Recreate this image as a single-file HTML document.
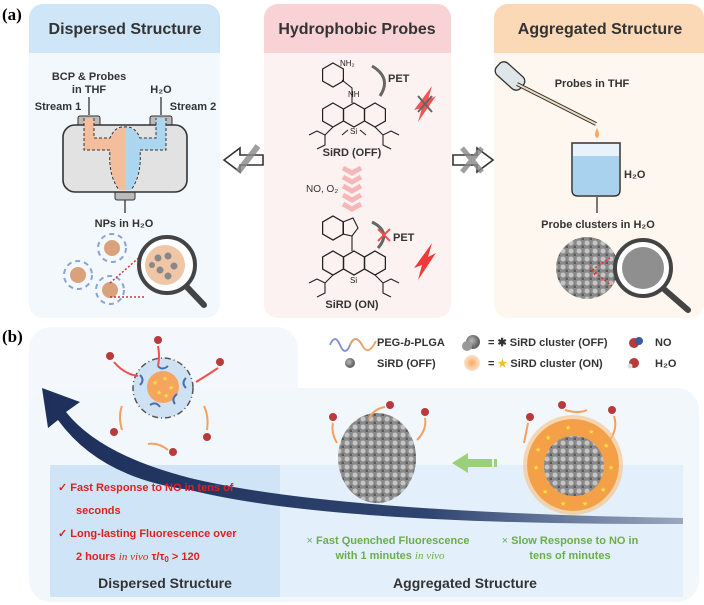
<!DOCTYPE html>
<html><head><meta charset="utf-8"><style>
html,body{margin:0;padding:0;background:#fff;}
svg{display:block;font-family:"Liberation Sans",sans-serif;}
.b{font-weight:bold;}
</style></head><body>
<svg width="704" height="605" viewBox="0 0 704 605" xmlns="http://www.w3.org/2000/svg">
<defs>
<polygon id="hx" points="0,-12 10.4,-6 10.4,6 0,12 -10.4,6 -10.4,-6" fill="none" stroke="#222" stroke-width="1.2"/>
<radialGradient id="gg" cx="40%" cy="40%"><stop offset="0" stop-color="#bbb"/><stop offset="1" stop-color="#666"/></radialGradient>
<radialGradient id="og"><stop offset="0" stop-color="#f7a860"/><stop offset="1" stop-color="#f5b57a" stop-opacity="0.4"/></radialGradient>
<pattern id="cl" width="8" height="8" patternUnits="userSpaceOnUse"><rect width="8" height="8" fill="#8a8a8a"/><circle cx="3" cy="3" r="2.5" fill="#c4c4c4"/><circle cx="7" cy="7" r="1.5" fill="#5a5a5a"/></pattern>
<linearGradient id="arw" x1="0" x2="1"><stop offset="0" stop-color="#1d2f5a"/><stop offset="0.6" stop-color="#2f4470"/><stop offset="1" stop-color="#9aa8c0"/></linearGradient>
</defs>
<text x="2" y="20" font-family="Liberation Serif" font-size="17" class="b">(a)</text>
<!-- left panel -->
<rect x="29" y="4" width="191" height="314" rx="14" fill="#f3f8fd"/>
<path d="M29,53 V18 a14,14 0 0 1 14,-14 H206 a14,14 0 0 1 14,14 V53 Z" fill="#cfe6f8"/>
<text x="125" y="34" text-anchor="middle" font-size="16" class="b" fill="#333">Dispersed Structure</text>
<!-- middle -->
<rect x="264" y="4" width="187" height="314" rx="14" fill="#fdf2f2"/>
<path d="M264,53 V18 a14,14 0 0 1 14,-14 H437 a14,14 0 0 1 14,14 V53 Z" fill="#f9d2d5"/>
<text x="357" y="34" text-anchor="middle" font-size="16" class="b" fill="#333">Hydrophobic Probes</text>
<!-- right -->
<rect x="494" y="4" width="210" height="314" rx="14" fill="#fdf7ef"/>
<path d="M494,53 V18 a14,14 0 0 1 14,-14 H690 a14,14 0 0 1 14,14 V53 Z" fill="#fbd9b7"/>
<text x="600" y="34" text-anchor="middle" font-size="16" class="b" fill="#333">Aggregated Structure</text>

<!-- left content -->
<g font-size="11" class="b" fill="#333" text-anchor="middle">
<text x="89" y="80">BCP &amp; Probes</text><text x="89" y="93">in THF</text>
<text x="161" y="93">H₂O</text>
<text x="58" y="110">Stream 1</text><text x="193" y="110">Stream 2</text>
<text x="124" y="227">NPs in H₂O</text>
</g>
<path d="M89,97 V115 M161,97 V115 M125,200 V213" stroke="#333" stroke-width="1.3"/>
<rect x="78" y="116" width="22" height="12" rx="2" fill="#bbb" stroke="#333"/>
<rect x="150" y="116" width="22" height="12" rx="2" fill="#bbb" stroke="#333"/>
<rect x="115" y="190" width="20" height="10" rx="2" fill="#bbb" stroke="#333"/>
<rect x="63" y="125" width="124" height="67" rx="12" fill="#e2e2e2" stroke="#333" stroke-width="1.6"/>
<path d="M84,118 H94 V138 H110 Q115,128 125,127 V190 H119 Q110,175 110,155 V150 H84 Z" fill="#f4bd9c"/>
<path d="M166,118 H156 V138 H140 Q135,128 125,127 V190 H131 Q140,175 140,155 V150 H166 Z" fill="#acd5f0"/>
<path d="M84,118 V150 H110 Q108,175 119,190 M94,118 V138 H110 Q115,126 125,127 Q135,126 140,138 H156 V118 M166,118 V150 H140 Q142,175 131,190" fill="none" stroke="#333" stroke-dasharray="3,2"/>
<g fill="none" stroke="#8aa4d6" stroke-width="2">
<circle cx="78" cy="275" r="14" stroke-dasharray="5,4"/><circle cx="112" cy="248" r="14" stroke-dasharray="5,4"/><circle cx="110" cy="290" r="14" stroke-dasharray="5,4"/>
</g>
<circle cx="78" cy="275" r="8" fill="#d9a27c"/><circle cx="112" cy="248" r="8" fill="#d9a27c"/><circle cx="110" cy="290" r="8" fill="#d9a27c"/>
<path d="M110,283 L142,255 M110,297 L145,297" stroke="#e03030" stroke-width="1.5" stroke-dasharray="2,2"/>
<line x1="185" y1="285" x2="204" y2="305" stroke="#444" stroke-width="6" stroke-linecap="round"/>
<circle cx="167" cy="265" r="28" fill="#fff" stroke="#444" stroke-width="4"/>
<circle cx="165" cy="265" r="20" fill="#efc6a6"/>
<g fill="#888"><circle cx="158" cy="258" r="3.5"/><circle cx="168" cy="256" r="3.5"/><circle cx="174" cy="266" r="3.5"/><circle cx="160" cy="270" r="3.5"/><circle cx="168" cy="276" r="3.5"/><circle cx="152" cy="265" r="3"/></g>

<!-- arrows between panels -->
<path d="M224,160 L240,148 V155 H263 V165 H240 V172 Z" fill="#fff" stroke="#333" stroke-width="1.6"/>
<path d="M238,172 L258,146" stroke="#888" stroke-width="6" opacity="0.8"/>
<path d="M493,160 L477,148 V155 H453 V165 H477 V172 Z" fill="#fff" stroke="#333" stroke-width="1.6"/>
<path d="M462,148 L482,172 M482,148 L462,172" stroke="#888" stroke-width="5" opacity="0.8"/>

<!-- middle molecules -->
<g>
<use href="#hx" x="333" y="75"/>
<use href="#hx" x="333" y="115"/><use href="#hx" x="354" y="115"/><use href="#hx" x="375" y="115"/>
<path d="M342,80 L352,88 V103 M333,127 l-8,8 -8,-4 -8,4 M325,135 v10 l-8,4 M375,127 l8,8 8,-4 8,4 M383,135 v10 l8,4 M348,130 l-6,5 M360,130 l6,5" fill="none" stroke="#222" stroke-width="1.1"/>
<text x="340" y="66" font-size="8" fill="#222">NH₂</text><text x="348" y="97" font-size="8" fill="#222">NH</text>
<text x="350" y="134" font-size="8" fill="#222">Si</text>
<path d="M372,66 Q392,78 380,96" fill="none" stroke="#666" stroke-width="3"/>
<text x="388" y="82" font-size="11" class="b" fill="#333">PET</text>
<path d="M414,110 L432,86 L428,100 L436,96 L418,122 L422,108 Z" fill="#f03a3a" opacity="0.85"/>
<path d="M418,96 L432,112 M432,96 L418,112" stroke="#666" stroke-width="2"/>
<text x="352" y="156" text-anchor="middle" font-size="11" class="b" fill="#333">SiRD (OFF)</text>
<g fill="none" stroke="#f4b8b8" stroke-width="5">
<path d="M343,168 l9,5 9,-5 M343,177 l9,5 9,-5 M343,186 l9,5 9,-5 M343,195 l9,5 9,-5 M343,204 l9,5 9,-5"/>
</g>
<text x="306" y="192" font-size="10" fill="#333">NO, O₂</text>
<g fill="none" stroke="#f7a0a0" stroke-width="4" opacity="0.45"><use href="#hx" x="333" y="263"/><use href="#hx" x="354" y="263"/><use href="#hx" x="375" y="263"/><use href="#hx" x="333" y="228"/></g>
<use href="#hx" x="333" y="228"/>
<use href="#hx" x="333" y="263"/><use href="#hx" x="354" y="263"/><use href="#hx" x="375" y="263"/>
<polygon points="343,222 353,218 358,228 352,236 343,234" fill="none" stroke="#222" stroke-width="1.1"/>
<path d="M352,236 V251 M333,275 l-8,8 -8,-4 -8,4 M325,283 v10 l-8,4 M375,275 l8,8 8,-4 8,4 M383,283 v10 l8,4" fill="none" stroke="#222" stroke-width="1.1"/>
<text x="350" y="283" font-size="8" fill="#222">Si</text>
<path d="M372,222 Q392,232 378,248" fill="none" stroke="#666" stroke-width="3"/>
<path d="M378,229 L390,241 M390,229 L378,241" stroke="#f05050" stroke-width="2"/>
<text x="393" y="241" font-size="11" class="b" fill="#333">PET</text>
<path d="M414,268 L432,243 L428,257 L436,253 L418,280 L422,265 Z" fill="#f03a3a"/>
<text x="352" y="308" text-anchor="middle" font-size="11" class="b" fill="#333">SiRD (ON)</text>

<!-- right content -->
<rect x="502" y="60" width="16" height="32" rx="6" transform="rotate(-48 510 76)" fill="#dfe6ea" stroke="#333" stroke-width="1.3"/>
<line x1="517" y1="84" x2="596" y2="124" stroke="#333" stroke-width="4"/>
<line x1="517" y1="84" x2="596" y2="124" stroke="#f3dcc0" stroke-width="2"/>
<path d="M597,128 q-4,8 0,10 q4,-2 0,-10z" fill="#f5a862"/>
<text x="592" y="87" font-size="11" class="b" fill="#333" text-anchor="middle">Probes in THF</text>
<path d="M572,143 H620 V190 Q620,196 614,196 H578 Q572,196 572,190 Z" fill="#e8f2fa" stroke="#333" stroke-width="1.5"/>
<path d="M573,156 H619 V190 Q619,195 614,195 H578 Q573,195 573,190 Z" fill="#a9d2ee"/>
<text x="624" y="178" font-size="11" class="b" fill="#333">H₂O</text>
<path d="M597,197 V213" stroke="#333" stroke-width="1.3"/>
<text x="598" y="228" font-size="11" class="b" fill="#333" text-anchor="middle">Probe clusters in H₂O</text>
<circle cx="587" cy="268" r="31" fill="url(#cl)"/>
<path d="M592,270 l18,-12 M592,270 l20,16 M595,275 l-5,-8" stroke="#e03030" stroke-width="1.5" stroke-dasharray="2,2" fill="none"/>
<line x1="665" y1="290" x2="688" y2="310" stroke="#444" stroke-width="6" stroke-linecap="round"/>
<circle cx="643" cy="268" r="28" fill="#fff" stroke="#444" stroke-width="4"/>
<circle cx="643" cy="268" r="21" fill="#8f8f8f"/>

<!-- (b) -->
<text x="2" y="342" font-family="Liberation Serif" font-size="17" class="b">(b)</text>
<rect x="29" y="327" width="269" height="275" rx="22" fill="#f4f8fd"/>
<rect x="29" y="388" width="670" height="214" rx="22" fill="#f2f7fc"/>
<rect x="50" y="465" width="633" height="132" fill="#e3f0fb"/>
<rect x="50" y="465" width="230" height="132" fill="#cfe4f6"/>
<!-- legend -->
<path d="M330,345 q5,-12 10,0 t10,0 q5,-12 12,0" fill="none" stroke="#7d8fd0" stroke-width="1.8"/>
<path d="M350,345 q6,-12 12,0 t14,-4" fill="none" stroke="#eea060" stroke-width="1.8"/>
<text x="377" y="346" font-size="11" class="b" fill="#333">PEG-<tspan font-style="italic">b</tspan>-PLGA</text>
<circle cx="350" cy="363" r="5" fill="url(#gg)"/>
<text x="377" y="367" font-size="11" class="b" fill="#333">SiRD (OFF)</text>
<circle cx="473" cy="342" r="7" fill="url(#gg)"/><circle cx="467" cy="346" r="5" fill="#999"/>
<circle cx="472" cy="363" r="8" fill="url(#og)"/>
<text x="488" y="346" font-size="11" class="b" fill="#333">= ✱ SiRD cluster (OFF)</text>
<text x="488" y="367" font-size="11" class="b" fill="#333">= <tspan fill="#f0c020">★</tspan> SiRD cluster (ON)</text>
<circle cx="634" cy="343" r="5" fill="#b83a3a"/><circle cx="639" cy="341" r="4" fill="#3b5aa0"/>
<text x="655" y="346" font-size="11" class="b" fill="#333">NO</text>
<circle cx="634" cy="363" r="5" fill="#b83a3a"/><circle cx="630" cy="366" r="2.5" fill="#ddd"/>
<text x="655" y="367" font-size="11" class="b" fill="#333">H₂O</text>
<!-- dispersed NP -->
<circle cx="163" cy="388" r="30" fill="#cfe2f3" stroke="#555" stroke-width="1.5" stroke-dasharray="6,3,1,3"/>
<circle cx="163" cy="387" r="16" fill="#f6a55e"/>
<g fill="#f5e040" font-size="7"><text x="152" y="385">★</text><text x="162" y="381">★</text><text x="168" y="390">★</text><text x="156" y="395">★</text><text x="163" y="398">★</text></g>
<g fill="none" stroke="#4a6fb0" stroke-width="2"><path d="M140,375 q5,5 0,10 M186,378 q-5,5 0,10 M150,405 q6,-4 10,2 M175,404 q-4,-5 2,-10 M158,366 q4,5 10,0"/></g>
<g fill="#b83a3a"><circle cx="158" cy="340" r="4"/><circle cx="110" cy="356" r="4"/><circle cx="220" cy="362" r="4"/><circle cx="114" cy="432" r="4"/><circle cx="207" cy="437" r="4"/><circle cx="173" cy="452" r="4"/></g>
<g stroke="#f05050" stroke-width="2" fill="none"><path d="M158,346 q2,10 0,20 M114,362 q10,12 24,14 M218,368 q-12,8 -22,14"/></g>
<g stroke="#f5a060" stroke-width="2" fill="none"><path d="M122,430 q-4,-14 0,-24 M207,430 q2,-14 -3,-24 M168,450 q-10,-8 -20,-6"/></g>
<!-- big curved arrow -->
<path d="M683,518 Q330,512 190,478 Q100,455 66,412 L80,402 L42,388 L48,428 L58,420 Q100,478 190,490 Q330,525 683,524 Z" fill="url(#arw)"/>
<!-- aggregated clusters -->
<ellipse cx="377" cy="458" rx="39" ry="45" fill="url(#cl)"/>
<g fill="#b83a3a"><circle cx="333" cy="417" r="4"/><circle cx="390" cy="405" r="4"/><circle cx="425" cy="412" r="4"/><circle cx="530" cy="417" r="4"/><circle cx="562" cy="405" r="4"/><circle cx="612" cy="410" r="4"/></g>
<g stroke="#f5a060" stroke-width="2" fill="none"><path d="M333,423 q-2,10 4,20 M385,407 q-12,2 -16,12 M425,418 q2,12 -8,22 M528,423 q-2,10 -4,20 M565,410 q14,4 22,0 M614,416 q4,12 -4,24"/></g>
<circle cx="573" cy="465" r="46" fill="#f4a048"/>
<circle cx="573" cy="465" r="48" fill="none" stroke="#f7c080" stroke-width="4" opacity="0.6"/>
<circle cx="574" cy="466" r="30" fill="url(#cl)"/>
<g fill="#f8e040" font-size="7">
<text x="545" y="440">★</text><text x="565" y="430">★</text><text x="588" y="434">★</text><text x="603" y="448">★</text><text x="608" y="470">★</text><text x="600" y="492">★</text><text x="582" y="506">★</text><text x="560" y="506">★</text><text x="542" y="494">★</text><text x="533" y="470">★</text><text x="535" y="452">★</text>
</g>
<path d="M452,463 L468,453 V459 H492 V467 H468 V473 Z" fill="#9ccf7a"/>
<rect x="494" y="459" width="3" height="8" fill="#9ccf7a"/>
<!-- texts -->
<g font-size="11" class="b" fill="#e0201f">
<text x="58" y="491">✓ Fast Response to NO in tens of</text>
<text x="76" y="514">seconds</text>
<text x="58" y="537">✓ Long-lasting Fluorescence over</text>
<text x="76" y="560">2 hours <tspan font-family="Liberation Serif" font-style="italic" font-weight="normal">in vivo</tspan>  τ/τ<tspan font-size="8" dy="2">0</tspan><tspan dy="-2"> &gt; 120</tspan></text>
</g>
<text x="165" y="588" text-anchor="middle" font-size="14" class="b" fill="#333">Dispersed Structure</text>
<g font-size="11" class="b" fill="#6aae4a" text-anchor="middle">
<text x="388" y="544"><tspan font-weight="normal">× </tspan>Fast Quenched Fluorescence</text>
<text x="390" y="559">with 1 minutes <tspan font-family="Liberation Serif" font-style="italic" font-weight="normal">in vivo</tspan></text>
<text x="570" y="544"><tspan font-weight="normal">× </tspan>Slow Response to NO in</text>
<text x="570" y="559">tens of minutes</text>
</g>
<text x="465" y="588" text-anchor="middle" font-size="14" class="b" fill="#333">Aggregated Structure</text>
</svg>
</body></html>
